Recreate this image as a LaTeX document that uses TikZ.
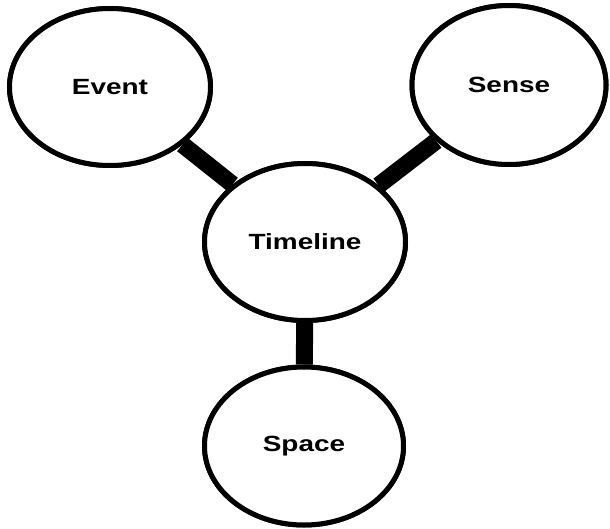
\documentclass[tikz,border=0pt]{standalone}
\usepackage{fontspec}
\setmainfont{Liberation Sans}
\usetikzlibrary{shapes.geometric}
% wide bold label text
\newcommand{\widelabel}[1]{\scalebox{1.27}[1]{#1}}
\begin{document}
\begin{tikzpicture}[x=1pt,y=-1pt,
  topic/.style={ellipse, draw=black, line width=5pt, fill=white, inner sep=0pt,
    minimum width=201pt, minimum height=157pt,
    font=\fontsize{22}{26}\selectfont\bfseries},
  link/.style={line width=17pt, black}]
  \useasboundingbox (0,0) rectangle (610,529);
  % the four topics
  \node[topic] (event) at (110,87) {\widelabel{Event}};
  \node[topic, minimum width=194pt, minimum height=159pt] (sense) at (509,85) {\widelabel{Sense}};
  \node[topic, minimum width=201pt] (timeline) at (305,242) {\widelabel{Timeline}};
  \node[topic, minimum width=199pt, minimum height=158pt] (space) at (304,446) {\widelabel{Space}};
  % thick connectors to the central topic
  \draw[link] (event) -- (timeline);
  \draw[link] (sense) -- (timeline);
  \draw[link] (timeline) -- (space);
  % redraw the ellipses over the connector ends
  \node[topic] at (event.center) {\widelabel{Event}};
  \node[topic, minimum width=194pt, minimum height=159pt] at (sense.center) {\widelabel{Sense}};
  \node[topic, minimum width=201pt] at (timeline.center) {\widelabel{Timeline}};
  \node[topic, minimum width=199pt, minimum height=158pt] at (space.center) {\widelabel{Space}};
\end{tikzpicture}
\end{document}
